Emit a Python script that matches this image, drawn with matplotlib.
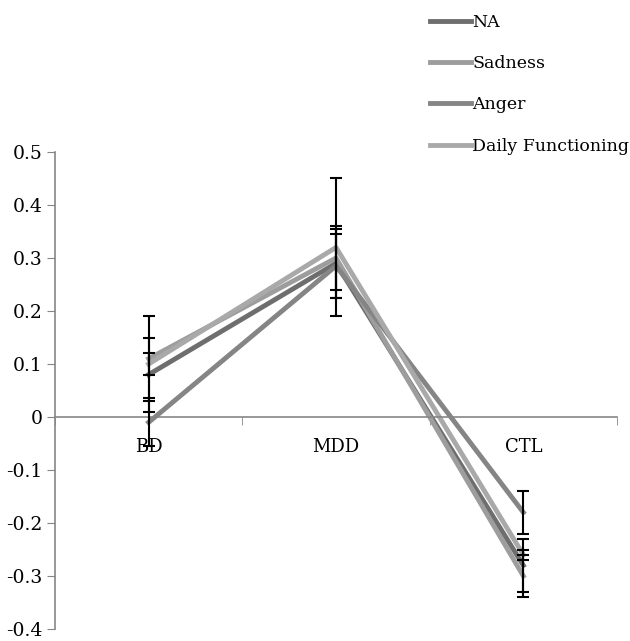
import matplotlib
matplotlib.use('Agg')
import matplotlib.pyplot as plt
import numpy as np

groups = ['BD', 'MDD', 'CTL']
series = ['NA', 'Sadness', 'Anger', 'Daily Functioning']

na = [0.08, 0.29, -0.28]
sadness = [0.11, 0.30, -0.30]
anger = [-0.01, 0.285, -0.18]
daily = [0.10, 0.32, -0.26]

na_err = [0.07, 0.065, 0.05]
sadness_err = [0.08, 0.06, 0.04]
anger_err = [0.045, 0.06, 0.04]
daily_err = [0.02, 0.13, 0.01]

colors = ['#6e6e6e', '#9d9d9d', '#858585', '#a9a9a9']

plt.rcParams['font.family'] = ['DejaVu Serif']

fig = plt.figure(figsize=(6.3, 6.41), dpi=100)
ax = fig.add_axes([55/630, 12/641, 562/630, 477/641])

x = np.arange(len(groups))
vals = [na, sadness, anger, daily]
errs = [na_err, sadness_err, anger_err, daily_err]

for v, c, name in zip(vals, colors, series):
    ax.plot(x, v, color=c, linewidth=3.5, label=name, zorder=2)
for v, e in zip(vals, errs):
    ax.errorbar(x, v, yerr=e, fmt='none', ecolor='black', elinewidth=1.5,
                capsize=4.5, capthick=1.5, zorder=3)

ax.set_xlim(-0.5, 2.5)
ax.set_ylim(-0.4, 0.5)
ax.set_yticks(np.arange(-0.4, 0.51, 0.1))
ax.set_yticklabels(['-0.4', '-0.3', '-0.2', '-0.1', '0', '0.1', '0.2', '0.3', '0.4', '0.5'])

ax.set_xticks(x)
ax.set_xticklabels(groups)
ax.set_xticks([-0.5, 0.5, 1.5, 2.5], minor=True)
ax.tick_params(axis='x', which='major', length=0, pad=15, labelsize=13)
ax.tick_params(axis='x', which='minor', length=6, direction='out', color='#868686')
ax.tick_params(axis='y', length=6, direction='out', color='#868686', labelsize=13.5, pad=3)

ax.spines['top'].set_visible(False)
ax.spines['right'].set_visible(False)
ax.spines['bottom'].set_position(('data', 0))
for s in ['left', 'bottom']:
    ax.spines[s].set_color('#868686')
    ax.spines[s].set_linewidth(1.2)

fig.legend(loc='upper left', bbox_to_anchor=(414/630, 1.003), frameon=False,
           fontsize=12.5, handlelength=2.4, handletextpad=0.05, labelspacing=1.4)

plt.savefig('out.png', dpi=100)
